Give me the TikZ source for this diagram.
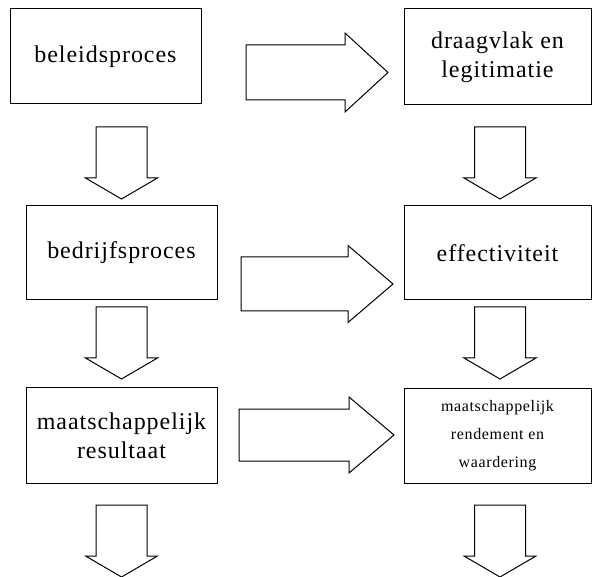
\documentclass[tikz,border=0pt]{standalone}
\usepackage{fontspec}
\setmainfont{Liberation Serif}
\newfontfamily\spacedserif[LetterSpace=4]{Liberation Serif}
\begin{document}
\begin{tikzpicture}[x=1pt,y=-1pt,
  box/.style={draw,line width=1pt,align=center,inner sep=0pt,font=\spacedserif\fontsize{24}{29}\selectfont},
  smallbox/.style={box,font=\spacedserif\fontsize{16}{28}\selectfont},
  blk/.style={draw,line width=1pt,line join=miter,fill=white},
  pics/downarr/.style={code={
    \draw[blk] (-25.5,0) -- (25.5,0) -- (25.5,51) -- (36,51) -- (0,72) -- (-36,51) -- (-25.5,51) -- cycle;}},
  pics/rightarr/.style n args={4}{code={
    \draw[blk] (0,-#2) -- (#3,-#2) -- (#3,-#4) -- (#1,0) -- (#3,#4) -- (#3,#2) -- (0,#2) -- cycle;}}
]
\useasboundingbox (0,0) rectangle (592,577);
% boxes
\node[box,minimum width=191,minimum height=95] (b1) at (105.5,56.5) {beleidsproces};
\node[box,minimum width=187,minimum height=96] (b2) at (497.5,57) {draagvlak en\\legitimatie};
\node[box,minimum width=191,minimum height=94] (b3) at (121.5,253) {bedrijfsproces};
\node[box,minimum width=187,minimum height=94] (b4) at (497.5,253) {effectiviteit};
\node[box,minimum width=191,minimum height=95] (b5) at (121.5,435.5) {maatschappelijk\\resultaat};
\node[smallbox,minimum width=187,minimum height=94] (b6) at (497.5,436) {maatschappelijk\\rendement en\\waardering};
% horizontal block arrows
\coordinate (h1) at (246,72.5);
\coordinate (h2) at (241,284);
\coordinate (h3) at (239,435);
\pic at (h1) {rightarr={142}{27.5}{99}{39.5}};
\pic at (h2) {rightarr={152}{27}{107}{38.5}};
\pic at (h3) {rightarr={155}{26}{110}{38}};
% vertical block arrows
\coordinate (l1) at (121.5,127);
\coordinate (l2) at (121.5,307);
\coordinate (l3) at (121.5,505);
\coordinate (r1) at (500,127);
\coordinate (r2) at (500,307);
\coordinate (r3) at (500,505);
\foreach \c in {l1,l2,l3,r1,r2,r3} {\pic at (\c) {downarr};}
\end{tikzpicture}
\end{document}
